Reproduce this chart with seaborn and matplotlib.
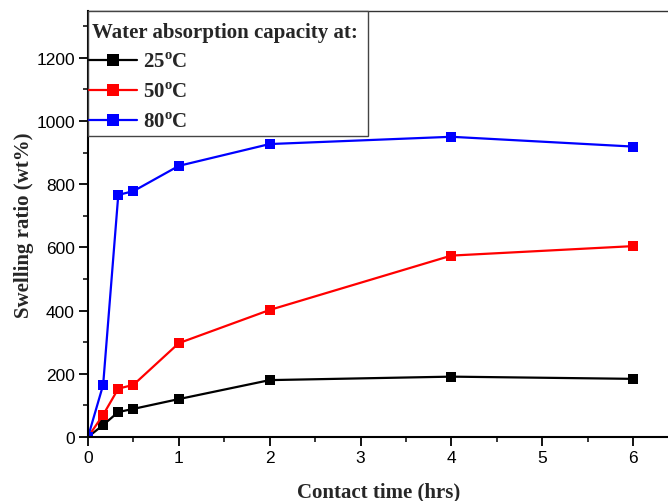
import matplotlib
matplotlib.use("Agg")
import matplotlib.pyplot as plt
import seaborn as sns
import pandas as pd
from matplotlib.ticker import MultipleLocator
from matplotlib.offsetbox import VPacker, HPacker, DrawingArea

time_hrs = [0, 1/6, 1/3, 0.5, 1, 2, 4, 6]
swell_25 = [0, 38, 79, 89, 120, 180, 191, 184]
swell_50 = [0, 70, 153, 165, 297, 402, 574, 604]
swell_80 = [0, 165, 766, 778, 858, 927, 950, 919]
series_labels = ["25$^{\\mathbf{o}}$C", "50$^{\\mathbf{o}}$C", "80$^{\\mathbf{o}}$C"]
colors = ["black", "red", "blue"]

df = pd.concat([
    pd.DataFrame({"t": time_hrs, "s": v, "series": lab})
    for v, lab in zip([swell_25, swell_50, swell_80], series_labels)
])

sns.set_style("ticks")
plt.rcParams["font.family"] = ["Liberation Sans", "DejaVu Sans"]
plt.rcParams["mathtext.fontset"] = "custom"
plt.rcParams["mathtext.rm"] = "Liberation Serif:bold"
plt.rcParams["mathtext.bf"] = "Liberation Serif:bold"

fig = plt.figure(figsize=(6.68, 5.02), dpi=100)
ax = fig.add_axes([88/668, 1 - 438/502, 1 - 88/668 + 0.002, (438 - 12)/502])

sns.lineplot(data=df, x="t", y="s", hue="series", palette=colors,
             marker="s", markersize=6.8, markeredgewidth=0, linewidth=1.6,
             ax=ax, legend=False)

ax.set_xlim(0, 6.4)
ax.set_ylim(0, 1348)
ax.xaxis.set_major_locator(MultipleLocator(1))
ax.xaxis.set_minor_locator(MultipleLocator(0.5))
ax.yaxis.set_major_locator(MultipleLocator(200))
ax.yaxis.set_minor_locator(MultipleLocator(100))
ax.tick_params(which="major", direction="out", length=6.5, width=1.3, pad=3,
               labelsize=12.5, colors="black")
ax.tick_params(which="minor", direction="out", length=3.5, width=1.3)
for sp in ax.spines.values():
    sp.set_linewidth(1.5)
    sp.set_color("black")
ax.spines["top"].set_linewidth(1.0)
ax.spines["top"].set_color("#333333")

ax.set_xlabel("Contact time (hrs)", fontfamily="Liberation Serif", fontweight="bold",
              fontsize=15, labelpad=12)
ax.set_ylabel("Swelling ratio (wt%)", fontfamily="Liberation Serif", fontweight="bold",
              fontsize=15, labelpad=1.5)

handles = [plt.Line2D([], [], color=c, marker="s", markersize=8, markeredgewidth=0, linewidth=1.6)
           for c in colors]
leg = ax.legend(handles, series_labels, title="Water absorption capacity at:",
                loc="upper left", bbox_to_anchor=(0, 1), borderaxespad=0,
                frameon=True, fancybox=False, handlelength=2.3, handletextpad=0.3,
                labelspacing=0.47, borderpad=0.05, alignment="left",
                prop={"family": "Liberation Serif", "weight": "bold", "size": 15},
                title_fontproperties={"family": "Liberation Serif", "weight": "bold", "size": 15})
leg.get_frame().set_edgecolor("#444444")
leg.get_frame().set_linewidth(1.0)
leg.get_frame().set_alpha(1)

# extra padding around the title (top/left/right) and below the entries
title_box = leg._legend_box._children[0]
entries_box = leg._legend_box._children[1]
new_title = HPacker(children=[DrawingArea(2.2, 1),
                              VPacker(children=[DrawingArea(1, 7.5), title_box],
                                      pad=0, sep=0, align="left"),
                              DrawingArea(6.5, 1)],
                    pad=0, sep=0, align="bottom")
new_entries = VPacker(children=[entries_box, DrawingArea(1, 2.0)], pad=0, sep=0, align="left")
leg._legend_box._children[0] = new_title
leg._legend_box._children[1] = new_entries
leg._legend_box.set_figure(fig)
for b in (new_title, new_entries):
    b.set_figure(fig)
    for c in b.get_children():
        c.set_figure(fig)

fig.savefig("out.png", dpi=100)
